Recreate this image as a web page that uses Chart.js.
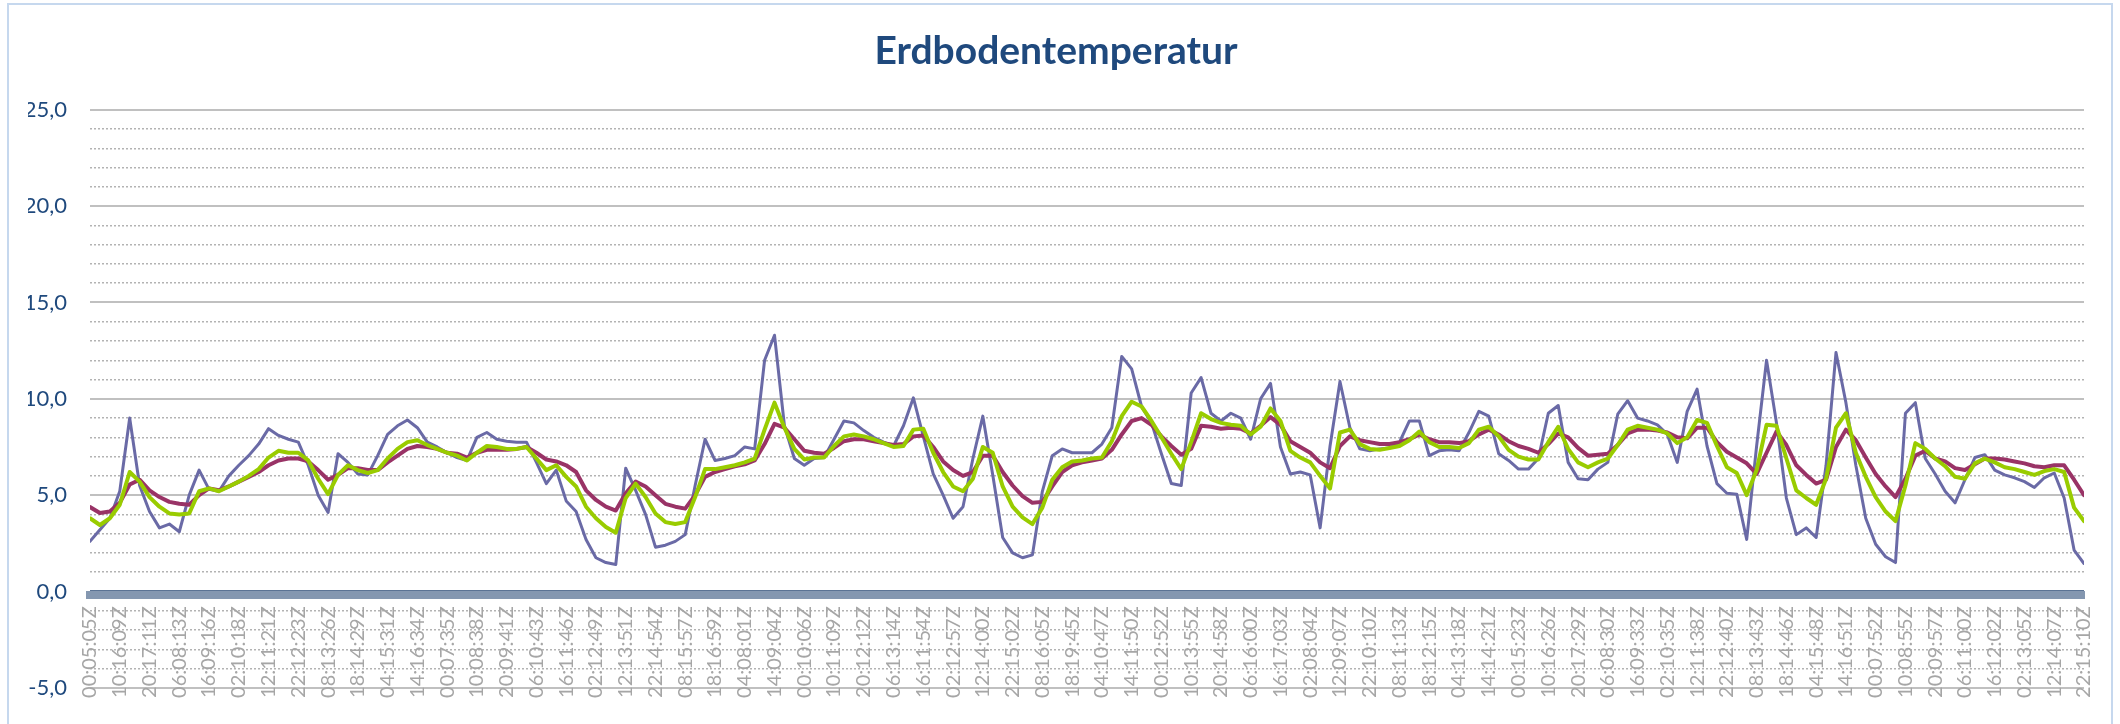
<!DOCTYPE html>
<html>
<head>
<meta charset="utf-8">
<title>Erdbodentemperatur</title>
<script src="https://cdn.jsdelivr.net/npm/chart.js@4.4.1/dist/chart.umd.min.js"></script>
<style>
  html, body { margin: 0; padding: 0; background: #fff; }
  #wrap { position: relative; width: 2120px; height: 724px; overflow: hidden; }
  #frame { position: absolute; left: 7px; top: 3px; width: 2106px; height: 760px; border: 2px solid #c6d8ee; box-sizing: border-box; pointer-events: none; }
  canvas { display: block; }
</style>
</head>
<body>
<div id="wrap">
  <canvas id="soilChart" width="2120" height="724"></canvas>
  <div id="frame"></div>
</div>
<script>
// axis labels, one every 3 samples
const timeLabels = [
    "00:05:05Z", "10:16:09Z", "20:17:11Z", "06:08:13Z", "16:09:16Z", "02:10:18Z", "12:11:21Z", "22:12:23Z",
    "08:13:26Z", "18:14:29Z", "04:15:31Z", "14:16:34Z", "00:07:35Z", "10:08:38Z", "20:09:41Z", "06:10:43Z",
    "16:11:46Z", "02:12:49Z", "12:13:51Z", "22:14:54Z", "08:15:57Z", "18:16:59Z", "04:08:01Z", "14:09:04Z",
    "00:10:06Z", "10:11:09Z", "20:12:12Z", "06:13:14Z", "16:11:54Z", "02:12:57Z", "12:14:00Z", "22:15:02Z",
    "08:16:05Z", "18:19:45Z", "04:10:47Z", "14:11:50Z", "00:12:52Z", "10:13:55Z", "20:14:58Z", "06:16:00Z",
    "16:17:03Z", "02:08:04Z", "12:09:07Z", "22:10:10Z", "08:11:13Z", "18:12:15Z", "04:13:18Z", "14:14:21Z",
    "00:15:23Z", "10:16:26Z", "20:17:29Z", "06:08:30Z", "16:09:33Z", "02:10:35Z", "12:11:38Z", "22:12:40Z",
    "08:13:43Z", "18:14:46Z", "04:15:48Z", "14:16:51Z", "00:07:52Z", "10:08:55Z", "20:09:57Z", "06:11:00Z",
    "16:12:02Z", "02:13:05Z", "12:14:07Z", "22:15:10Z"
];
const samplesPerLabel = 3;

// purple/blue line (reacts fastest)
const blueSeries = [
    2.6, 3.2, 3.8, 5.2, 9.0, 5.5, 4.15, 3.3, 3.5, 3.1, 5.0, 6.3,
    5.3, 5.2, 6.0, 6.55, 7.05, 7.65, 8.45, 8.1, 7.9, 7.75, 6.55, 5.0,
    4.1, 7.15, 6.7, 6.1, 6.05, 7.05, 8.15, 8.6, 8.9, 8.5, 7.75, 7.5,
    7.2, 6.95, 6.8, 8.0, 8.25, 7.9, 7.8, 7.75, 7.75, 6.7, 5.6, 6.3,
    4.7, 4.15, 2.7, 1.75, 1.5, 1.4, 6.4, 5.25, 4.0, 2.3, 2.4, 2.6,
    2.95, 5.5, 7.9, 6.8, 6.9, 7.05, 7.5, 7.4, 12.0, 13.3, 8.6, 6.9,
    6.55, 6.9, 6.95, 7.9, 8.85, 8.75, 8.35, 8.0, 7.75, 7.55, 8.6, 10.05,
    8.05, 6.1, 5.0, 3.8, 4.4, 6.9, 9.1, 6.05, 2.8, 2.0, 1.75, 1.9,
    5.2, 7.05, 7.4, 7.2, 7.2, 7.2, 7.65, 8.5, 12.2, 11.55, 9.6, 8.75,
    7.15, 5.6, 5.5, 10.3, 11.1, 9.25, 8.85, 9.25, 9.0, 7.9, 10.0, 10.8,
    7.5, 6.1, 6.2, 6.05, 3.3, 7.55, 10.9, 8.5, 7.4, 7.3, 7.4, 7.45,
    7.75, 8.85, 8.85, 7.05, 7.3, 7.35, 7.3, 8.25, 9.35, 9.1, 7.15, 6.8,
    6.35, 6.35, 6.9, 9.25, 9.65, 6.7, 5.85, 5.8, 6.35, 6.7, 9.2, 9.9,
    9.0, 8.85, 8.65, 8.15, 6.7, 9.35, 10.5, 7.55, 5.6, 5.1, 5.05, 2.7,
    7.55, 12.0, 8.75, 4.85, 2.95, 3.3, 2.8, 6.55, 12.4, 9.8, 6.55, 3.8,
    2.45, 1.8, 1.5, 9.25, 9.8, 6.9, 6.1, 5.2, 4.6, 5.8, 6.95, 7.1,
    6.3, 6.05, 5.9, 5.7, 5.4, 5.9, 6.15, 4.85, 2.15, 1.45
];

// dark red line (slowest)
const magentaSeries = [
    4.38, 4.07, 4.15, 4.6, 5.55, 5.8, 5.25, 4.9, 4.65, 4.55, 4.5, 5.0,
    5.35, 5.25, 5.45, 5.7, 5.95, 6.2, 6.55, 6.8, 6.9, 6.9, 6.75, 6.3,
    5.8, 6.05, 6.4, 6.4, 6.3, 6.3, 6.7, 7.05, 7.4, 7.55, 7.5, 7.4,
    7.2, 7.15, 6.95, 7.2, 7.35, 7.35, 7.35, 7.4, 7.5, 7.2, 6.85, 6.75,
    6.55, 6.2, 5.25, 4.75, 4.4, 4.2, 5.1, 5.7, 5.45, 5.0, 4.55, 4.4,
    4.3, 5.0, 5.95, 6.2, 6.35, 6.5, 6.6, 6.8, 7.65, 8.7, 8.5, 7.9,
    7.3, 7.2, 7.15, 7.45, 7.8, 7.9, 7.9, 7.8, 7.7, 7.6, 7.65, 8.05,
    8.1, 7.5, 6.75, 6.3, 6.0, 6.2, 7.05, 7.05, 6.2, 5.5, 4.95, 4.6,
    4.65, 5.45, 6.2, 6.55, 6.7, 6.8, 6.9, 7.35, 8.15, 8.85, 9.0, 8.65,
    8.05, 7.55, 7.1, 7.4, 8.6, 8.55, 8.45, 8.5, 8.45, 8.2, 8.6, 9.05,
    8.65, 7.8, 7.5, 7.2, 6.7, 6.4, 7.55, 8.05, 7.85, 7.75, 7.65, 7.65,
    7.75, 7.9, 8.15, 7.9, 7.75, 7.75, 7.7, 7.8, 8.15, 8.4, 8.15, 7.8,
    7.55, 7.4, 7.2, 7.65, 8.2, 8.0, 7.45, 7.05, 7.1, 7.15, 7.6, 8.2,
    8.4, 8.4, 8.35, 8.25, 8.0, 7.95, 8.5, 8.5, 7.75, 7.25, 6.95, 6.65,
    6.1, 7.2, 8.3, 7.6, 6.55, 6.05, 5.6, 5.8, 7.5, 8.4, 7.85, 6.95,
    6.1, 5.45, 4.9, 5.85, 7.05, 7.3, 6.9, 6.75, 6.4, 6.3, 6.6, 6.9,
    6.9, 6.85, 6.75, 6.65, 6.5, 6.45, 6.55, 6.55, 5.8, 5.0
];

// light green line
const greenSeries = [
    3.8, 3.45, 3.8, 4.5, 6.2, 5.7, 4.9, 4.4, 4.05, 4.0, 4.05, 5.2,
    5.35, 5.2, 5.45, 5.7, 6.0, 6.35, 6.95, 7.3, 7.2, 7.2, 6.8, 5.85,
    5.05, 6.05, 6.55, 6.3, 6.15, 6.3, 6.9, 7.4, 7.75, 7.85, 7.6, 7.4,
    7.2, 7.05, 6.8, 7.2, 7.55, 7.5, 7.4, 7.4, 7.5, 6.9, 6.3, 6.55,
    5.95, 5.45, 4.4, 3.8, 3.35, 3.05, 4.85, 5.6, 4.9, 4.05, 3.6, 3.5,
    3.6, 4.9, 6.35, 6.35, 6.45, 6.55, 6.7, 6.9, 8.4, 9.8, 8.5, 7.4,
    6.85, 6.95, 6.95, 7.55, 8.05, 8.15, 8.05, 7.9, 7.7, 7.5, 7.55, 8.4,
    8.45, 7.2, 6.2, 5.45, 5.2, 5.85, 7.5, 7.2, 5.45, 4.4, 3.85, 3.5,
    4.35, 5.8, 6.45, 6.75, 6.8, 6.9, 6.95, 7.8, 9.1, 9.85, 9.6, 8.85,
    8.0, 7.15, 6.35, 7.75, 9.25, 8.95, 8.75, 8.65, 8.6, 8.15, 8.55, 9.5,
    8.85, 7.3, 6.95, 6.7, 6.0, 5.35, 8.25, 8.4, 7.65, 7.4, 7.35, 7.45,
    7.55, 7.85, 8.3, 7.75, 7.5, 7.5, 7.45, 7.7, 8.4, 8.55, 8.05, 7.35,
    7.0, 6.85, 6.85, 7.75, 8.55, 7.4, 6.7, 6.45, 6.7, 6.9, 7.6, 8.4,
    8.6, 8.5, 8.4, 8.2, 7.7, 8.0, 8.9, 8.75, 7.55, 6.45, 6.15, 5.0,
    6.3, 8.65, 8.6, 6.9, 5.25, 4.85, 4.5, 5.85, 8.5, 9.25, 7.2, 5.95,
    4.9, 4.15, 3.65, 5.5, 7.7, 7.4, 6.9, 6.5, 5.95, 5.85, 6.65, 6.9,
    6.7, 6.45, 6.35, 6.2, 6.05, 6.25, 6.35, 6.2, 4.35, 3.65
];

const yMin = -5;
const yMax = 25;

function toPoints(values) {
    return values.map((v, i) => ({ x: i / samplesPerLabel, y: v }));
}

function formatGerman(v) {
    return v.toFixed(1).replace(".", ",");
}

Chart.defaults.font.family = "Lato, 'Open Sans', sans-serif";

const ctx = document.getElementById("soilChart").getContext("2d");

const soilChart = new Chart(ctx, {
    type: "line",
    data: {
        datasets: [
            { data: toPoints(greenSeries), borderColor: "#99cc00", borderWidth: 4 },
            { data: toPoints(magentaSeries), borderColor: "#993366", borderWidth: 4 },
            { data: toPoints(blueSeries), borderColor: "#6a6aa6", borderWidth: 3 }
        ]
    },
    options: {
        responsive: false,
        animation: false,
        devicePixelRatio: 1,
        layout: { padding: { left: 28, right: 36, top: 0, bottom: 28 } },
        elements: {
            point: { radius: 0 },
            line: { tension: 0, fill: false, borderJoinStyle: "round", borderCapStyle: "round" }
        },
        plugins: {
            legend: { display: false },
            tooltip: { enabled: false },
            title: {
                display: true,
                text: "Erdbodentemperatur",
                color: "#1f497d",
                font: { size: 39, weight: "bold" },
                padding: { top: 28, bottom: 35 }
            }
        },
        scales: {
            x: {
                type: "linear",
                position: { y: -0.2 },   // axis bar sits just under 0
                min: 0,
                max: timeLabels.length - 1,
                grid: { display: false, drawTicks: false },
                border: { display: true, color: "#8497b0", width: 8 },
                ticks: {
                    stepSize: 1,
                    maxTicksLimit: 200,
                    autoSkip: false,
                    minRotation: 90,
                    maxRotation: 90,
                    padding: 11,
                    color: "#a6a6a6",
                    font: { size: 20 },
                    callback: (value) => timeLabels[Math.round(value)] ?? ""
                },
                afterFit: (scale) => { scale.height = 0; }
            },
            y: {
                position: "left",
                min: yMin,
                max: yMax,
                grid: {
                    drawTicks: false,
                    lineWidth: 2,
                    color: (c) => (c.tick && c.tick.value === 0 ? "#5b7394" : "#c0c0c0")
                },
                border: { display: false },
                ticks: {
                    stepSize: 5,
                    padding: 23,
                    color: "#1f497d",
                    font: { size: 22 },
                    callback: (value) => formatGerman(value)
                },
                afterFit: (scale) => { scale.width = 62; }
            },
            yMinor: {
                position: "left",
                min: yMin,
                max: yMax,
                grid: {
                    drawTicks: false,
                    lineWidth: 1.5,
                    color: (c) => (c.tick && c.tick.value % 5 === 0 ? "rgba(0,0,0,0)" : "#b3b3b3")
                },
                border: { display: false, dash: [2, 2] },
                ticks: { display: false, stepSize: 1 },
                afterFit: (scale) => { scale.width = 0; }
            }
        }
    }
});
</script>
</body>
</html>
